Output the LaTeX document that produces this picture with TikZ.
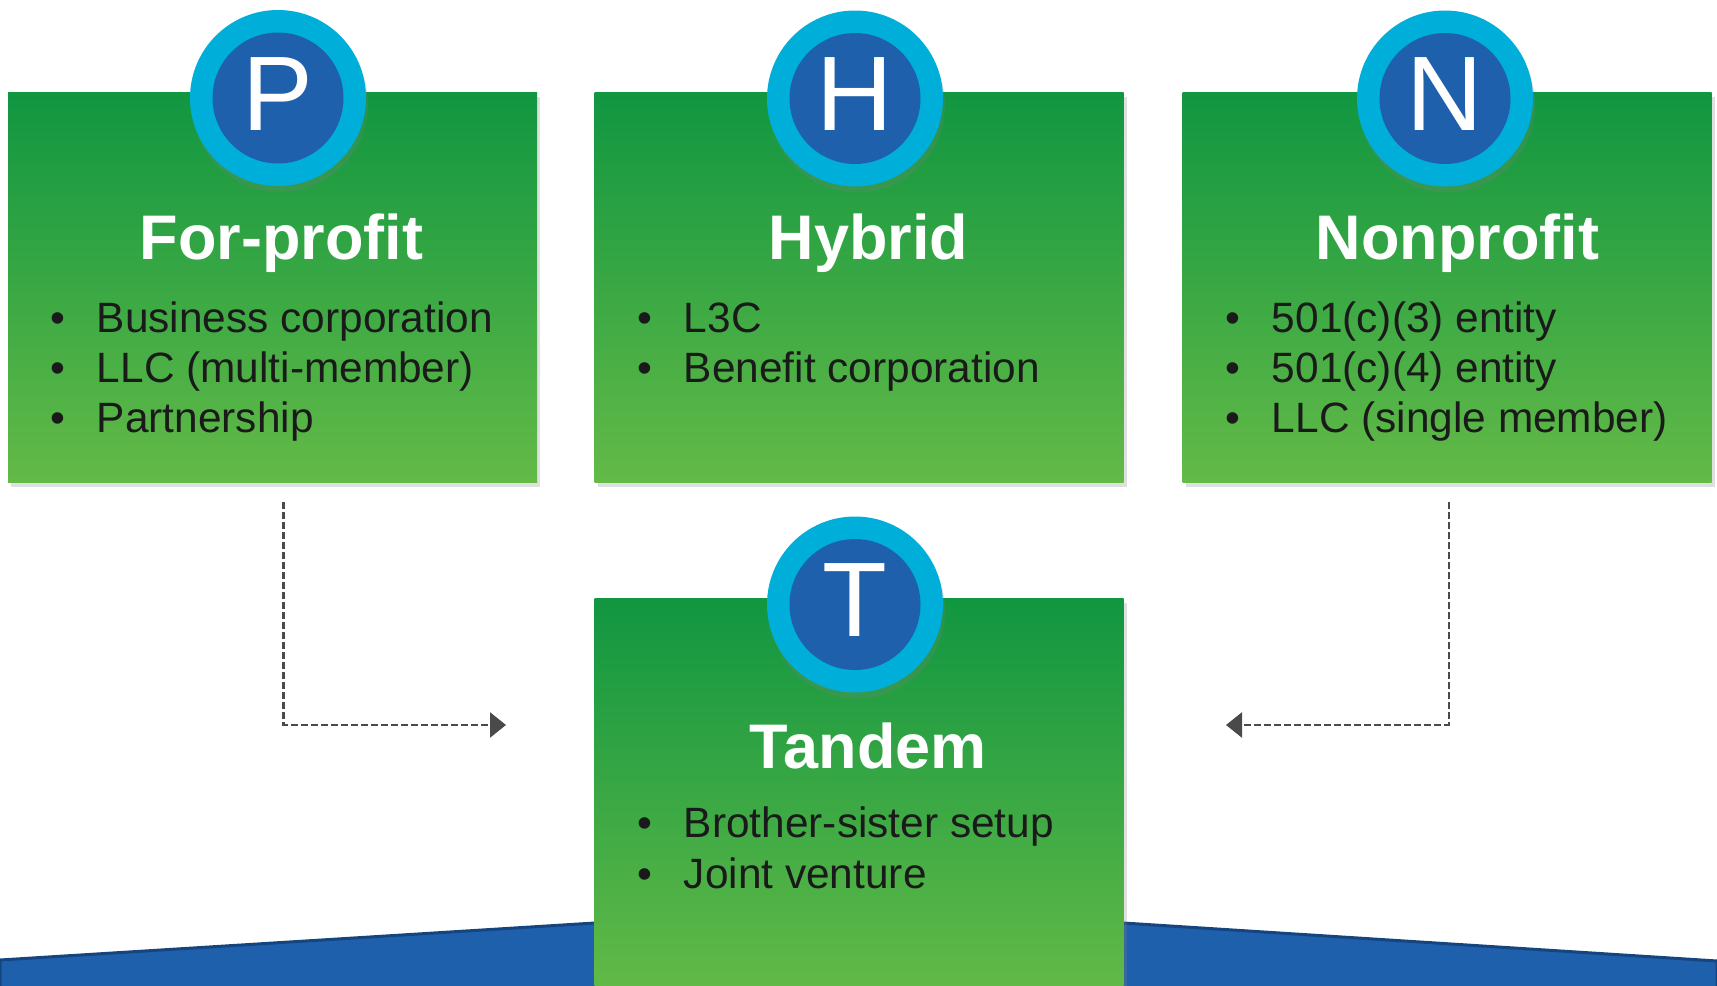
\documentclass[tikz,border=0pt]{standalone}
\usepackage{fontspec}
\setmainfont{Liberation Sans}
\usetikzlibrary{shadows,arrows.meta}

\definecolor{boxtop}{HTML}{119641}
\definecolor{boxbot}{HTML}{63BA47}
\definecolor{ringblue}{HTML}{00AEDA}
\definecolor{discblue}{HTML}{1F60AD}
\definecolor{bandline}{HTML}{15457F}
\definecolor{arrowgray}{HTML}{4A4A4A}
\definecolor{ink}{HTML}{1A1A1A}

\tikzset{
  card/.style={minimum width=264.5pt, minimum height=195pt, inner sep=0pt,
    top color=boxtop, bottom color=boxbot,
    drop shadow={shadow xshift=1.5pt, shadow yshift=-2.5pt, opacity=0.25}},
  ring/.style={circle, fill=ringblue, minimum size=88pt, inner sep=0pt,
    drop shadow={shadow xshift=1pt, shadow yshift=-3pt, opacity=0.22}},
  disc/.style={circle, fill=discblue, minimum size=65.5pt, inner sep=0pt,
    text=white, text height=38pt, text depth=6pt,
    font=\fontsize{53}{53}\selectfont},
  title/.style={anchor=base, inner sep=0pt, text=white,
    font=\bfseries\fontsize{31.5}{31.5}\selectfont},
  item/.style={anchor=base west, inner sep=0pt, text=ink,
    font=\fontsize{21.2}{21.2}\selectfont},
  flow/.style={draw=arrowgray, line width=1.2pt, dash pattern=on 3.5pt off 1.5pt,
    -{Triangle[length=8pt,width=12.5pt]}}
}
\newcommand{\itm}[1]{\makebox[23.4pt][l]{\textbullet}#1}

\begin{document}
\begin{tikzpicture}[x=0.5pt,y=-0.5pt]
\useasboundingbox (0,0) rectangle (1717,985);

% blue band at the foot
\draw[fill=discblue, draw=bandline, line width=1.5pt] (0,960) -- (594.6,923) -- (1123.5,923) -- (1717,961) -- (1717,995) -- (0,995) -- cycle;

% the four boxes
\node[card] (forprofit) at (272.7,287) {};
\node[card] (hybrid) at (859,287) {};
\node[card] (nonprofit) at (1447,287) {};
\node[card, minimum height=198pt] (tandem) at (859,796) {};

% letter badges
\foreach \n/\x/\y/\l in {p/278/98/P, h/855/98.5/H, n/1445/98.5/N, t/855/604.5/T} {
  \node[ring] (\n-ring) at (\x,\y) {};
  \node[disc] (\n-disc) at (\n-ring) {\l};
}

% titles
\node[title] (fptitle) at (281.5,259.5) {For-profit};
\node[title] (hytitle) at (868.3,259.5) {Hybrid};
\node[title] (nptitle) at (1457.4,259.5) {Nonprofit};
\node[title] (tdtitle) at (868.3,768.7) {Tandem};

% bullet lists
\foreach \t [count=\i] in {{Business corporation},{LLC (multi-member)},{Partnership}}
  \node[item] (fp\i) at (49.7,{332+50.4*(\i-1)}) {\itm{\t}};
\foreach \t [count=\i] in {{L3C},{Benefit corporation}}
  \node[item] (hy\i) at (636.7,{332+50.4*(\i-1)}) {\itm{\t}};
\foreach \t [count=\i] in {{501(c)(3) entity},{501(c)(4) entity},{LLC (single member)}}
  \node[item] (np\i) at (1224.7,{332+50.4*(\i-1)}) {\itm{\t}};
\foreach \t [count=\i] in {{Brother-sister setup},{Joint venture}}
  \node[item] (td\i) at (636.7,{837+51*(\i-1)}) {\itm{\t}};

% dashed feeds into the tandem box
\coordinate (fpbend) at (283.6,725);
\coordinate (fpin) at (506,725);
\coordinate (npbend) at (1448.7,725);
\coordinate (npin) at (1226,725);
\draw[flow] ([yshift=-10pt]forprofit.south -| fpbend) -- (fpbend) -- (fpin);
\draw[flow] ([yshift=-10pt]nonprofit.south -| npbend) -- (npbend) -- (npin);
\end{tikzpicture}
\end{document}
